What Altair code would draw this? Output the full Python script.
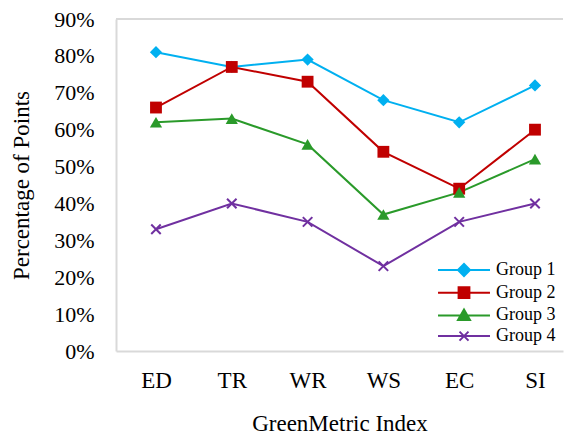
import altair as alt
import pandas as pd

categories = ["ED", "TR", "WR", "WS", "EC", "SI"]
groups = ["Group 1", "Group 2", "Group 3", "Group 4"]
group1 = [0.81, 0.77, 0.79, 0.68, 0.62, 0.72]
group2 = [0.66, 0.77, 0.73, 0.54, 0.44, 0.60]
group3 = [0.62, 0.63, 0.56, 0.37, 0.43, 0.52]
group4 = [0.33, 0.40, 0.35, 0.23, 0.35, 0.40]
colors = ["#00B0F0", "#C00000", "#2A9A2A", "#7030A0"]
y_ticks = [0, 0.1, 0.2, 0.3, 0.4, 0.5, 0.6, 0.7, 0.8, 0.9]
y_max = 0.9

FONT = "Liberation Serif"
BORDER = "#D9D9D9"

# marker shapes in the plot
X_PATH = "M-1,-1L1,1M1,-1L-1,1"
plot_shapes = ["diamond", "square", "triangle-up", X_PATH]
plot_filled = [True, True, True, False]
plot_sizes = [150, 140, 150, 90]

# legend symbols: a line segment with the marker in the middle
legend_paths = [
    "M-4.33,0L4.33,0M-1,0L0,-1L1,0L0,1Z",
    "M-4.33,0L4.33,0M-0.9,-0.9L0.9,-0.9L0.9,0.9L-0.9,0.9Z",
    "M-4.33,0L4.33,0M0,-1L1,0.75L-1,0.75Z",
    "M-4.33,0L4.33,0M-0.75,-0.75L0.75,0.75M0.75,-0.75L-0.75,0.75",
]

rows = []
for g, vals in zip(groups, [group1, group2, group3, group4]):
    for c, v in zip(categories, vals):
        rows.append({"index": c, "group": g, "value": v})
df = pd.DataFrame(rows)

x_axis = alt.Axis(
    title="GreenMetric Index", labelAngle=0, labelFontSize=23, titleFontSize=23,
    labelPadding=18, titlePadding=20, ticks=False, domain=True,
    domainColor=BORDER, domainWidth=2, grid=False,
)
y_axis = alt.Axis(
    title="Percentage of Points", format=".0%", values=y_ticks, labelOverlap=False,
    labelFontSize=22, titleFontSize=23, labelPadding=22, titlePadding=20,
    ticks=False, domain=True, domainColor=BORDER, domainWidth=2, grid=False,
)
y_scale = alt.Scale(domain=[0, y_max], nice=False, zero=True)

leg = alt.Legend(
    title=None,
    orient="none",
    legendX=339,
    legendY=242,
    symbolSize=144,
    symbolStrokeWidth=2,
    labelFont=FONT,
    labelFontSize=18,
    labelColor="black",
    labelOffset=23,
    rowPadding=2.7,
    padding=0,
)

x = alt.X("index:N", sort=categories,
          scale=alt.Scale(type="point", padding=0.4485, align=0.588), axis=x_axis)
y = alt.Y("value:Q", scale=y_scale, axis=y_axis)
color = alt.Color("group:N", scale=alt.Scale(domain=groups, range=colors), legend=leg)

base = alt.Chart(df)

lines = base.mark_line(strokeWidth=2).encode(x=x, y=y, color=color)

markers = []
for g, shp, fl, sz in zip(groups, plot_shapes, plot_filled, plot_sizes):
    markers.append(
        base.transform_filter(alt.datum.group == g)
        .mark_point(shape=shp, filled=fl, size=sz, strokeWidth=2, opacity=1)
        .encode(x=x, y=y, color=color)
    )

top_border = base.mark_rule(color=BORDER, strokeWidth=2).encode(
    y=alt.Y(datum=y_max, scale=y_scale, axis=y_axis)
)

# legend-only layer: its rows are filtered out, the explicit domains keep the entries
legend_layer = (
    base.transform_filter(alt.datum.value < 0)
    .mark_point(filled=True, strokeWidth=2)
    .encode(
        x=x,
        y=y,
        color=color,
        shape=alt.Shape("group:N", scale=alt.Scale(domain=groups, range=legend_paths), legend=leg),
    )
)

chart = (
    alt.layer(lines, *markers, top_border, legend_layer)
    .properties(
        width=447,
        height=332,
        padding={"left": 2, "top": 0, "right": 0, "bottom": 0},
        background="white",
    )
    .configure_view(stroke=None)
    .configure_axis(
        labelFont=FONT, titleFont=FONT, labelColor="black", titleColor="black",
        titleFontWeight="normal",
    )
)

chart.save("out.html", embed_options={"renderer": "svg", "actions": False})
